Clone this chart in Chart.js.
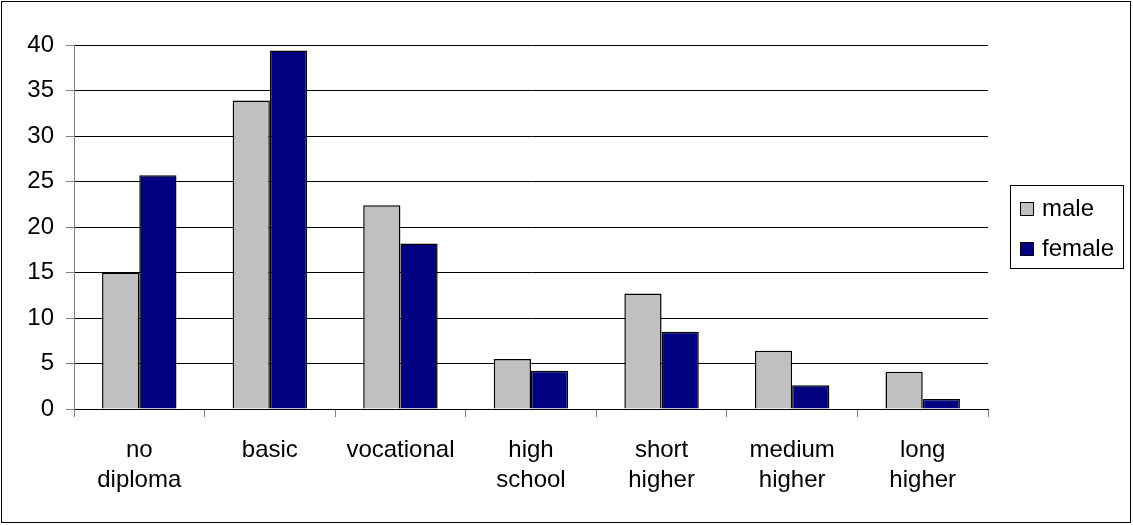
<!DOCTYPE html>
<html>
<head>
<meta charset="utf-8">
<script src="https://cdn.jsdelivr.net/npm/chart.js@4/dist/chart.umd.min.js"></script>
<style>
  html, body { margin: 0; padding: 0; background: #fff; }
  #wrap { width: 1133px; height: 525px; }
</style>
</head>
<body>
<div id="wrap"><canvas id="eduChart" width="1133" height="525"></canvas></div>
<script>
// data
var categories = [['no', 'diploma'], 'basic', 'vocational', ['high', 'school'], ['short', 'higher'], ['medium', 'higher'], ['long', 'higher']];
var seriesNames = ['male', 'female'];
var maleValues = [15.0, 33.9, 22.4, 5.5, 12.7, 6.4, 4.1];
var femaleValues = [25.7, 39.4, 18.2, 4.2, 8.5, 2.6, 1.1];
var yTicks = [0, 5, 10, 15, 20, 25, 30, 35, 40];

var colors = ['#c0c0c0', '#000080'];
var font = 'Liberation Sans, Arial, sans-serif';

// outer frame + legend box drawn by hand
var framePlugin = {
    id: 'frame',
    afterDraw: function (chart) {
        var c = chart.ctx;
        c.save();
        c.strokeStyle = '#000';
        c.lineWidth = 1;
        c.strokeRect(1.5, 1.5, 1129, 521);

        // legend
        c.strokeRect(1010.5, 185.5, 113, 83);
        c.font = '24px ' + font;
        c.textBaseline = 'alphabetic';
        var rows = [209, 249];
        chart.data.datasets.forEach(function (ds, i) {
            c.fillStyle = ds.backgroundColor;
            c.fillRect(1020, rows[i] - 7, 14, 14);
            c.strokeRect(1020.5, rows[i] - 6.5, 13, 13);
            c.fillStyle = '#000';
            c.fillText(ds.label, 1042, rows[i] + 7);
        });
        c.restore();
    }
};

new Chart(document.getElementById('eduChart'), {
    type: 'bar',
    data: {
        labels: categories,
        datasets: [{
            label: seriesNames[0],
            data: maleValues,
            backgroundColor: colors[0],
            borderColor: '#000',
            borderWidth: 1.5,
            categoryPercentage: 0.57,
            barPercentage: 1.0
        }, {
            label: seriesNames[1],
            data: femaleValues,
            backgroundColor: colors[1],
            borderColor: '#000',
            borderWidth: 1.5,
            categoryPercentage: 0.57,
            barPercentage: 1.0
        }]
    },
    options: {
        responsive: false,
        animation: false,
        layout: { padding: { left: 10, top: 45, right: 145, bottom: 10 } },
        plugins: {
            legend: { display: false },
            tooltip: { enabled: false }
        },
        scales: {
            x: {
                afterFit: function (s) { s.height = 525 - 409 - 10; },
                grid: {
                    offset: true,
                    drawOnChartArea: false,
                    color: '#808080',
                    tickLength: 8
                },
                border: { color: '#000', width: 1 },
                ticks: {
                    color: '#000',
                    padding: 18,
                    font: { family: font, size: 24, lineHeight: 1.25 },
                    maxRotation: 0,
                    autoSkip: false
                }
            },
            y: {
                min: 0,
                max: 40,
                afterFit: function (s) { s.width = 74 - 10; },
                afterBuildTicks: function (s) {
                    s.ticks = yTicks.map(function (v) { return { value: v }; });
                },
                grid: {
                    color: '#000',
                    tickColor: '#808080',
                    tickLength: 8
                },
                border: { color: '#808080', width: 1 },
                ticks: {
                    color: '#000',
                    padding: 12,
                    font: { family: font, size: 24 }
                }
            }
        }
    },
    plugins: [framePlugin]
});
</script>
</body>
</html>
